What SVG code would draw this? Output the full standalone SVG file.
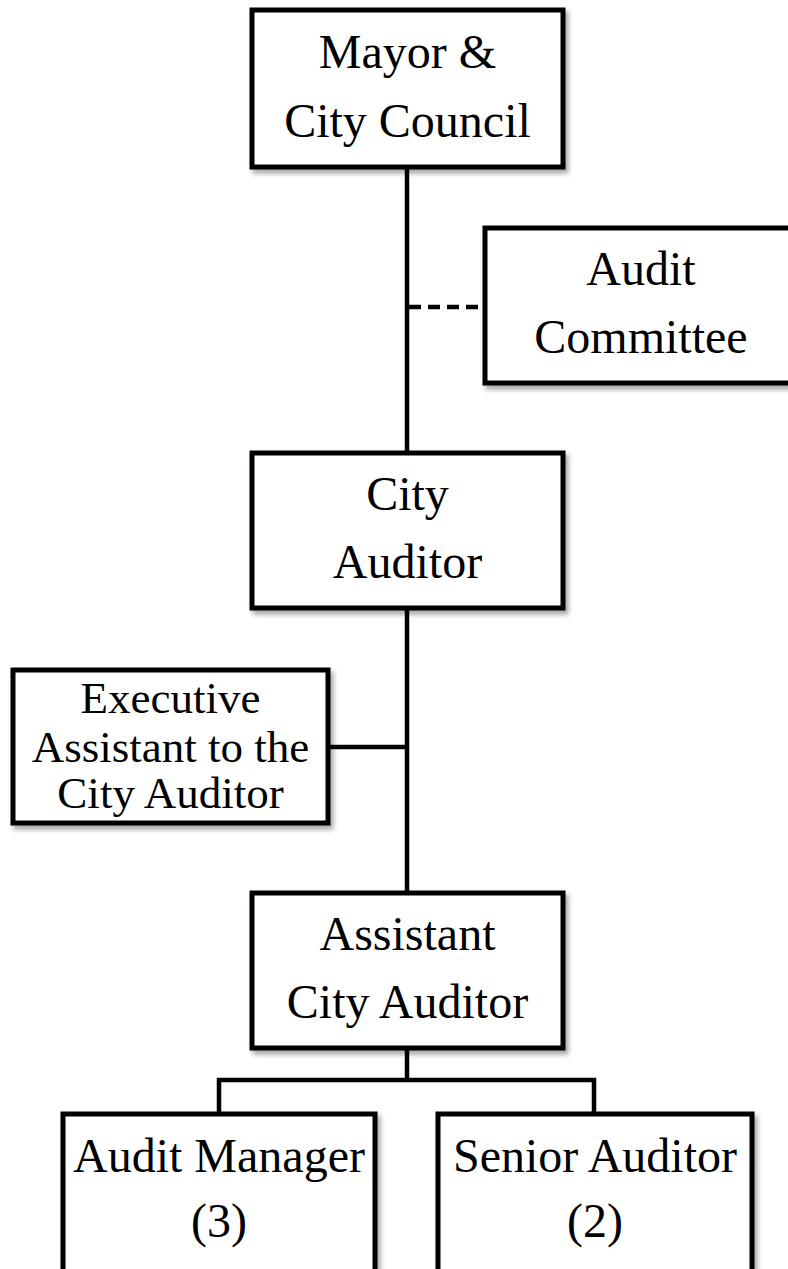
<svg xmlns="http://www.w3.org/2000/svg" width="788" height="1269" viewBox="0 0 788 1269">
<style>
.box{fill:#fff;stroke:#000;stroke-width:5;filter:url(#sh)}
.t{font-family:"Liberation Serif","Times New Roman",serif;font-size:48px;fill:#000;text-anchor:middle}
.t2{font-family:"Liberation Serif","Times New Roman",serif;font-size:45px;fill:#000;text-anchor:middle}
.ln{stroke:#000;stroke-width:4.5;fill:none}
.dash{stroke:#000;stroke-width:4.5;fill:none;stroke-dasharray:12 7}
</style>
<defs>
<filter id="sh" x="-10%" y="-10%" width="130%" height="130%">
<feDropShadow dx="3" dy="4" stdDeviation="2.5" flood-color="#000" flood-opacity="0.35"/>
</filter>
</defs>
<rect width="788" height="1269" fill="#fff"/>
<g id="connectors">
<line class="ln" x1="407" y1="167" x2="407" y2="455"/>
<line class="dash" x1="409" y1="307" x2="485" y2="307"/>
<line class="ln" x1="407" y1="608" x2="407" y2="893"/>
<line class="ln" x1="328" y1="747" x2="407" y2="747"/>
<line class="ln" x1="407" y1="1048" x2="407" y2="1080"/>
<polyline class="ln" points="219,1114 219,1080 594,1080 594,1114"/>
</g>
<g id="mayor">
<rect class="box" x="252" y="10" width="311" height="157"/>
<text class="t" x="407.5" y="68">Mayor &amp;</text>
<text class="t" x="407.5" y="137">City Council</text>
</g>
<g id="audit-committee">
<rect class="box" x="485" y="228" width="311" height="155"/>
<text class="t" x="641" y="285">Audit</text>
<text class="t" x="641" y="353">Committee</text>
</g>
<g id="city-auditor">
<rect class="box" x="252" y="453" width="311" height="155"/>
<text class="t" x="407.5" y="510">City</text>
<text class="t" x="407.5" y="578">Auditor</text>
</g>
<g id="executive-assistant">
<rect class="box" x="13" y="670" width="315" height="153"/>
<text class="t2" x="170.5" y="713">Executive</text>
<text class="t2" x="170.5" y="762">Assistant to the</text>
<text class="t2" x="170.5" y="808">City Auditor</text>
</g>
<g id="assistant-city-auditor">
<rect class="box" x="252" y="893" width="311" height="155"/>
<text class="t" x="407.5" y="950">Assistant</text>
<text class="t" x="407.5" y="1018">City Auditor</text>
</g>
<g id="audit-manager">
<rect class="box" x="63" y="1114" width="312" height="170"/>
<text class="t" x="219" y="1172">Audit Manager</text>
<text class="t" x="219" y="1237">(3)</text>
</g>
<g id="senior-auditor">
<rect class="box" x="438" y="1114" width="314" height="170"/>
<text class="t" x="595" y="1172">Senior Auditor</text>
<text class="t" x="595" y="1237">(2)</text>
</g>
</svg>
